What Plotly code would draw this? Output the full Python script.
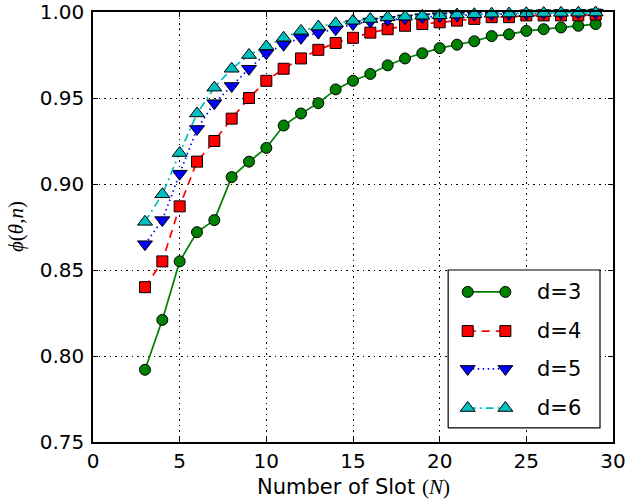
import plotly.graph_objects as go

# Number of slots N
slots = list(range(3, 30))

# phi(theta, n) for each d
phi_d3 = [0.792, 0.821, 0.855, 0.872, 0.879, 0.904, 0.913, 0.921, 0.934, 0.941,
          0.947, 0.955, 0.960, 0.964, 0.969, 0.973, 0.976, 0.979, 0.981, 0.983,
          0.986, 0.987, 0.989, 0.990, 0.991, 0.992, 0.993]
phi_d4 = [0.840, 0.855, 0.887, 0.913, 0.925, 0.938, 0.950, 0.960, 0.967, 0.973,
          0.978, 0.982, 0.985, 0.988, 0.990, 0.992, 0.993, 0.994, 0.995, 0.996,
          0.997, 0.997, 0.998, 0.998, 0.998, 0.998, 0.9985]
phi_d5 = [0.865, 0.879, 0.906, 0.932, 0.947, 0.957, 0.967, 0.976, 0.981, 0.985,
          0.988, 0.990, 0.993, 0.9945, 0.9955, 0.9963, 0.997, 0.9976, 0.998, 0.9984,
          0.9987, 0.9989, 0.9991, 0.9993, 0.9994, 0.9995, 0.9996]
phi_d6 = [0.878, 0.894, 0.918, 0.941, 0.956, 0.967, 0.975, 0.980, 0.985, 0.989,
          0.9915, 0.9934, 0.9949, 0.9959, 0.9969, 0.9973, 0.9978, 0.9981, 0.9985, 0.9987,
          0.999, 0.9991, 0.9993, 0.9994, 0.9995, 0.9996, 0.9997]

labels = ["d=3", "d=4", "d=5", "d=6"]
series = [phi_d3, phi_d4, phi_d5, phi_d6]
colors = ["#008000", "#ff0000", "#0000ff", "#00bfbf"]
symbols = ["circle", "square", "triangle-down", "triangle-up"]
sizes = [11, 11, 13, 13]
dashes = ["solid", "8px,6px", "1.5px,3.5px", "8px,4px,2px,4px"]

FONT = "DejaVu Sans"
SERIF = "Liberation Serif"

fig = go.Figure()

for name, ys, c, sym, sz, dsh in zip(labels, series, colors, symbols, sizes, dashes):
    fig.add_trace(go.Scatter(
        x=slots, y=ys, mode="lines+markers", name=name,
        line=dict(color=c, width=1.7, dash=dsh),
        marker=dict(symbol=sym, size=sz, color=c, line=dict(color="black", width=1)),
        showlegend=False, cliponaxis=False,
    ))

# Legend drawn on an overlay axis spanning the plot area (0..1 in both directions)
leg_x0, leg_x1 = 0.683, 0.975
leg_y0, leg_y1 = 0.033, 0.40
leg_rows = [0.349, 0.258, 0.170, 0.079]
sample_x = [0.7206, 0.793]
text_x = 0.85

# legend frame: white box that hides the grid behind it
fig.add_trace(go.Scatter(
    x=[leg_x0, leg_x1, leg_x1, leg_x0, leg_x0],
    y=[leg_y0, leg_y0, leg_y1, leg_y1, leg_y0],
    mode="lines", fill="toself", fillcolor="white",
    line=dict(color="black", width=1.2),
    xaxis="x2", yaxis="y2", showlegend=False, hoverinfo="skip",
))

for name, row, c, sym, sz, dsh in zip(labels, leg_rows, colors, symbols, sizes, dashes):
    fig.add_trace(go.Scatter(
        x=sample_x, y=[row, row], mode="lines+markers", xaxis="x2", yaxis="y2",
        line=dict(color=c, width=1.7, dash=dsh),
        marker=dict(symbol=sym, size=sz, color=c, line=dict(color="black", width=1)),
        showlegend=False, hoverinfo="skip",
    ))
    fig.add_annotation(
        x=text_x, y=row, xref="x2", yref="y2", text=name, showarrow=False,
        xanchor="left", yanchor="middle", font=dict(family=FONT, size=21, color="black"),
    )

axis_common = dict(
    showline=True, linecolor="black", linewidth=1.5, mirror="ticks",
    ticks="inside", ticklen=5, tickwidth=1, tickcolor="black",
    showgrid=True, gridcolor="black", gridwidth=0.8, griddash="1.5px,4px",
    zeroline=False, automargin=False,
    tickfont=dict(family=FONT, size=20, color="black"),
)

fig.update_layout(
    width=629, height=501,
    margin=dict(l=93, r=16, t=12, b=59, autoexpand=False),
    paper_bgcolor="white", plot_bgcolor="white",
    xaxis=dict(range=[0, 30], dtick=5, tick0=0, **axis_common),
    yaxis=dict(range=[0.75, 1.0], dtick=0.05, tick0=0.75, tickformat=".2f",
               ticklabelstandoff=3, **axis_common),
    xaxis2=dict(range=[0, 1], overlaying="x", visible=False, fixedrange=True),
    yaxis2=dict(range=[0, 1], overlaying="y", visible=False, fixedrange=True),
    showlegend=False,
)

# Axis titles
fig.add_annotation(
    x=0.5, y=-0.105, xref="paper", yref="paper", showarrow=False,
    xanchor="center", yanchor="middle",
    text='Number of Slot <span style="font-family:Liberation Serif">(<i>N</i>)</span>',
    font=dict(family=FONT, size=21, color="black"),
)
fig.add_annotation(
    x=-0.148, y=0.5, xref="paper", yref="paper", showarrow=False,
    xanchor="center", yanchor="middle", textangle=-90,
    text="<i>ϕ</i>(<i>θ</i>,<i>n</i>)",
    font=dict(family=SERIF, size=21, color="black"),
)

fig.write_html("out.html")
